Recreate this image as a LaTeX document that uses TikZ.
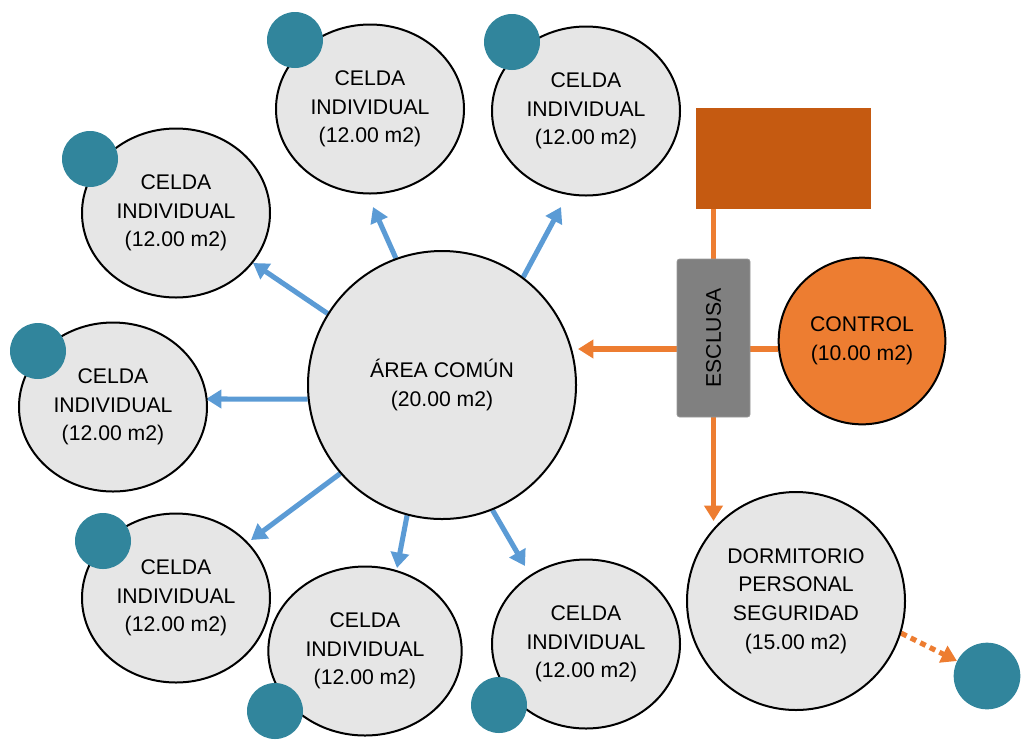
\documentclass[tikz,border=0pt]{standalone}
\usepackage{fontspec}
\setmainfont{Liberation Sans}
\usetikzlibrary{arrows.meta,shapes.geometric}
\pgfdeclarelayer{bg}
\pgfsetlayers{bg,main}
\definecolor{cellgray}{HTML}{E6E6E6}
\definecolor{tealdot}{HTML}{31859C}
\definecolor{bluearr}{HTML}{5B9BD5}
\definecolor{orangec}{HTML}{ED7D31}
\definecolor{darkor}{HTML}{C55A11}
\definecolor{esgray}{HTML}{808080}
\tikzset{
 txt/.style={font=\fontsize{15.9}{21.4}\selectfont, align=center, text=black},
 cell/.style={txt, ellipse, draw=black, line width=1.5pt, fill=cellgray, minimum width=141pt, minimum height=126.75pt, inner sep=0pt},
 room/.style={txt, circle, draw=black, line width=1.5pt, fill=cellgray, inner sep=0pt},
 dot/.style={circle, fill=tealdot, minimum size=42pt, inner sep=0pt},
 barrow/.style={draw=bluearr, line width=3.8pt, -{Triangle[length=11.5pt,width=13.5pt]}},
 oarrow/.style={draw=orangec, line width=3.8pt, -{Triangle[length=11.5pt,width=13.5pt]}},
}
\begin{document}
\begin{tikzpicture}[x=0.75pt,y=-0.75pt]
\useasboundingbox (0,0) rectangle (1023,740);

% central area
\node[room, minimum size=201pt] (area) at (442,385) {ÁREA COMÚN\\(20.00 m2)};

% cells
\node[cell] (c1) at (370,109) {CELDA\\INDIVIDUAL\\(12.00 m2)};
\node[cell] (c2) at (586,111) {CELDA\\INDIVIDUAL\\(12.00 m2)};
\node[cell] (c3) at (176,213) {CELDA\\INDIVIDUAL\\(12.00 m2)};
\node[cell] (c4) at (113,407) {CELDA\\INDIVIDUAL\\(12.00 m2)};
\node[cell] (c5) at (176,598) {CELDA\\INDIVIDUAL\\(12.00 m2)};
\node[cell, minimum width=145pt] (c6) at (365,651) {CELDA\\INDIVIDUAL\\(12.00 m2)};
\node[cell] (c7) at (586,644) {CELDA\\INDIVIDUAL\\(12.00 m2)};

% teal dots
\node[dot] (d1) at (295,40) {};
\node[dot] (d2) at (512,42) {};
\node[dot] (d3) at (90,159) {};
\node[dot] (d4) at (38,351) {};
\node[dot] (d5) at (103,541) {};
\node[dot] (d6) at (275,711) {};
\node[dot] (d7) at (499,705) {};
\node[dot, minimum size=50pt] (d8) at (987,676) {};

% right side
\node[fill=darkor, minimum width=131.25pt, minimum height=75.75pt, inner sep=0pt] (rect) at (783.5,158.5) {};
\node[fill=esgray, draw=esgray!80!white, line width=0.6pt, rounded corners=2pt, minimum width=54.75pt, minimum height=118.5pt, inner sep=0pt] (esclusa) at (713.5,338) {};
\node[txt, rotate=90] (esctxt) at (713.5,338) {ESCLUSA};
\node[room, fill=orangec, minimum size=125pt] (control) at (862,341) {CONTROL\\(10.00 m2)};
\node[room, minimum size=163.5pt] (dorm) at (796,601) {DORMITORIO\\PERSONAL\\SEGURIDAD\\(15.00 m2)};

% arrow tips
\coordinate (t1) at (373,207);
\coordinate (t2) at (561,207);
\coordinate (t3) at (253,263);
\coordinate (t4) at (206,399);
\coordinate (t5) at (251,540);
\coordinate (t6) at (397,568);
\coordinate (t7) at (525,566);
\coordinate (htip) at (578,349);
\coordinate (vtip) at (713.5,521);

\begin{pgfonlayer}{bg}
\draw[barrow] (area.110) -- (t1);
\draw[barrow] (area.53) -- (t2);
\draw[barrow] (area.148) -- (t3);
\draw[barrow] (area.186) -- (t4);
\draw[barrow] (area.221) -- (t5);
\draw[barrow] (area.255) -- (t6);
\draw[barrow] (area.292) -- (t7);
\draw[oarrow] (control.west |- htip) -- (htip);
\draw[oarrow] (esclusa.north |- rect.south) -- (vtip);
\draw[oarrow, dash pattern=on 4.5pt off 3.5pt] (dorm.-17) -- (d8);
\end{pgfonlayer}
\end{tikzpicture}
\end{document}
